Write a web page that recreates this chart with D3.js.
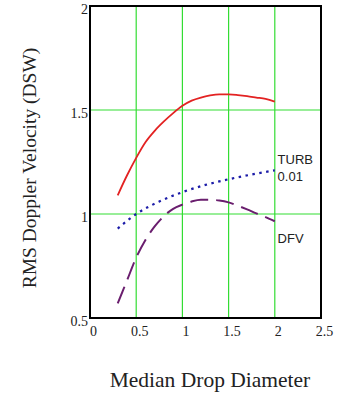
<!DOCTYPE html>
<html><head><meta charset="utf-8">
<script src="https://cdn.jsdelivr.net/npm/d3@7"></script>
<style>body{margin:0;background:#fff}svg{display:block}</style>
</head><body>
<script>
const xTicks = [0, 0.5, 1, 1.5, 2, 2.5];
const yTicks = [0.5, 1, 1.5, 2];
const xGrid = [0.5, 1, 1.5, 2];
const yGrid = [1, 1.5];
const rmsRed = [[0.3,1.09],[0.4,1.185],[0.5,1.27],[0.6,1.345],[0.7,1.40],[0.8,1.445],[0.9,1.485],[1.0,1.52],[1.1,1.545],[1.2,1.56],[1.3,1.57],[1.4,1.575],[1.5,1.575],[1.6,1.572],[1.7,1.567],[1.8,1.56],[1.9,1.553],[2.0,1.54]];
const turb = [[0.3,0.93],[0.5,1.0],[0.75,1.06],[1.0,1.105],[1.25,1.14],[1.5,1.167],[1.75,1.19],[2.0,1.21]];
const dfv = [[0.3,0.57],[0.4,0.68],[0.5,0.79],[0.6,0.875],[0.7,0.94],[0.8,0.99],[0.9,1.025],[1.0,1.045],[1.1,1.06],[1.2,1.068],[1.3,1.068],[1.4,1.065],[1.5,1.056],[1.6,1.04],[1.7,1.022],[1.8,1.003],[1.9,0.985],[2.0,0.965]];
const labels = [{t:"TURB", x:2.03, y:1.24},{t:"0.01", x:2.03, y:1.16},{t:"DFV", x:2.03, y:0.86}];

const W = 338, H = 396;
const L = 90, R = 321, T = 6, B = 318;
const svg = d3.select("body").append("svg").attr("width", W).attr("height", H);
const x = d3.scaleLinear().domain([0, 2.5]).range([L, R]);
const y = d3.scaleLinear().domain([0.5, 2]).range([B, T]);

svg.selectAll("line.gx").data(xGrid).join("line").attr("class","gx")
  .attr("x1", d=>x(d)).attr("x2", d=>x(d)).attr("y1", T).attr("y2", B)
  .attr("stroke", "#33dd33").attr("stroke-width", 1.2);
svg.selectAll("line.gy").data(yGrid).join("line").attr("class","gy")
  .attr("y1", d=>y(d)).attr("y2", d=>y(d)).attr("x1", L).attr("x2", R)
  .attr("stroke", "#33dd33").attr("stroke-width", 1.2);

const line = d3.line().x(d=>x(d[0])).y(d=>y(d[1])).curve(d3.curveMonotoneX);
svg.append("path").attr("d", line(rmsRed)).attr("fill","none").attr("stroke","#e32222").attr("stroke-width",1.8);
svg.append("path").attr("d", line(turb)).attr("fill","none").attr("stroke","#1c1ca8").attr("stroke-width",2.2).attr("stroke-dasharray","2.5,4.5");
svg.append("path").attr("d", line(dfv)).attr("fill","none").attr("stroke","#6a1e6e").attr("stroke-width",2).attr("stroke-dasharray","18,8");

svg.append("rect").attr("x", L).attr("y", T).attr("width", R-L).attr("height", B-T)
  .attr("fill","none").attr("stroke","#000").attr("stroke-width",2);

const xAxis = svg.append("g").attr("transform", `translate(0,${B})`)
  .call(d3.axisBottom(x).tickValues(xTicks).tickSize(0).tickPadding(8).tickFormat(d=>String(d)));
xAxis.select(".domain").remove();
xAxis.selectAll("text").attr("font-family","Liberation Serif, serif").attr("font-size",14).attr("fill","#222").attr("dx", 3);

const yAxis = svg.append("g").attr("transform", `translate(${L},0)`)
  .call(d3.axisLeft(y).tickValues(yTicks).tickSize(0).tickPadding(2).tickFormat(d=>String(d)));
yAxis.select(".domain").remove();
yAxis.selectAll("text").attr("font-family","Liberation Serif, serif").attr("font-size",14).attr("fill","#222").attr("dy","0.5em");

svg.selectAll("text.lab").data(labels).join("text").attr("class","lab")
  .attr("x", d=>x(d.x)).attr("y", d=>y(d.y)).text(d=>d.t)
  .attr("font-family","Liberation Sans, Arial, sans-serif").attr("font-size",13).attr("fill","#222");

svg.append("text").attr("transform", "translate(36,168) rotate(-90)").attr("text-anchor","middle")
  .attr("font-family","Liberation Serif, serif").attr("font-size",19.5).attr("fill","#222")
  .text("RMS Doppler Velocity (DSW)");
svg.append("text").attr("x", 210).attr("y", 387).attr("text-anchor","middle")
  .attr("font-family","Liberation Serif, serif").attr("font-size",21.5).attr("fill","#222")
  .text("Median Drop Diameter");
</script>
</body></html>
